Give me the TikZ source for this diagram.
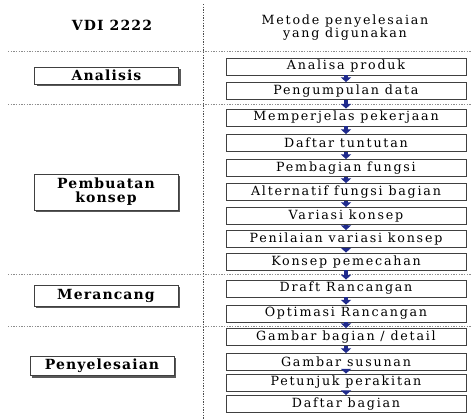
\documentclass[tikz,border=0pt]{standalone}
\usepackage{fontspec}
\setmainfont{DejaVu Serif}
\newfontfamily\isifont[LetterSpace=14]{DejaVu Serif}
\newfontfamily\tebalfont[LetterSpace=8]{DejaVu Serif}
\usetikzlibrary{arrows.meta, shadows}
\definecolor{cnavy}{HTML}{1F2A8C}
\definecolor{cgrey}{HTML}{8C8C8C}
\tikzset{
  every picture/.style={line width=0.6pt},
  metode/.style={draw=black!75, fill=white, minimum width=180pt, minimum height=12.8pt, inner sep=0pt, align=center, font=\isifont\fontsize{9.5}{11}\selectfont},
  tahap/.style={draw=black!75, fill=white, minimum width=108pt, inner sep=2pt, align=center, font=\tebalfont\bfseries\fontsize{10.5}{10.5}\selectfont,
                drop shadow={shadow xshift=1.5pt, shadow yshift=-1.5pt, fill=black!65, opacity=1}},
  panah/.style={-{Triangle[width=7.5pt, length=3.5pt]}, draw=cnavy, line width=2.4pt},
  batas/.style={draw=cgrey, line width=0.5pt, dash pattern=on 1pt off 1pt},
}

\begin{document}
\begin{tikzpicture}[x=0.75pt, y=-0.75pt]
  \useasboundingbox (0,0) rectangle (472,419);
  % garis batas
  \draw[batas, draw=black!70] (203,4) -- (203,419);
  \foreach \y in {51,104,274,326}
    \draw[batas] (8,\y) -- (472,\y);
  % judul kolom
  \node[font=\tebalfont\bfseries\fontsize{10.5}{11}\selectfont] (vdi) at (112,25) {VDI 2222};
  \node[font=\isifont\fontsize{9.5}{9.75}\selectfont, align=center] (judul) at (345,28) {Metode penyelesaian\\yang digunakan};
  % tahap VDI 2222
  \node[tahap, minimum height=12.8pt] (analisis) at (106.5,75.5) {Analisis};
  \node[tahap, minimum height=27pt] (pembuatan) at (106,192) {Pembuatan\\konsep};
  \node[tahap, minimum height=15.8pt] (merancang) at (106,295.5) {Merancang};
  \node[tahap, minimum height=13.5pt] (penyelesaian) at (102,366) {Penyelesaian};
  % metode yang digunakan
  \foreach \n/\t/\y in {1/Analisa produk/66.5, 2/Pengumpulan data/91, 3/Memperjelas pekerjaan/117.5,
                        4/Daftar tuntutan/143, 5/Pembagian fungsi/168, 6/Alternatif fungsi bagian/192,
                        7/Variasi konsep/216, 8/Penilaian variasi konsep/239, 9/Konsep pemecahan/261.5,
                        10/Draft Rancangan/288.5, 11/Optimasi Rancangan/313.5, 12/{Gambar bagian / detail}/337,
                        13/Gambar susunan/362, 14/Petunjuk perakitan/382.5, 15/Daftar bagian/404} {
    \node[metode] (m\n) at (346,\y) {\t};
  }
  \foreach \a in {1,...,14} {
    \pgfmathtruncatemacro\b{\a+1}
    \draw[panah] (m\a) -- (m\b);
  }
\end{tikzpicture}
\end{document}
